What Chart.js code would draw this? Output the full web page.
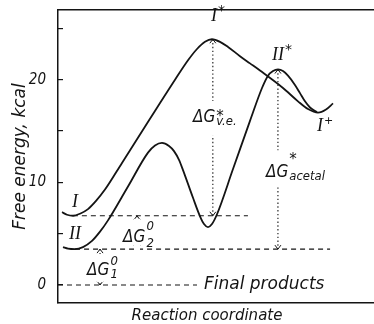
<!DOCTYPE html>
<html>
<head>
<meta charset="utf-8">
<script src="https://cdn.jsdelivr.net/npm/chart.js@4/dist/chart.umd.min.js"></script>
<style>
  html, body { margin: 0; padding: 0; background: #fff; }
  #wrap { width: 374px; height: 324px; }
</style>
</head>
<body>
<div id="wrap"><canvas id="c"></canvas></div>
<script>
// Reaction coordinate is in arbitrary units (0..100), energy in kcal
const coordI = [1.27, 2.85, 4.75, 6.96, 9.49, 12.03, 14.87, 20.25, 29.11, 37.03, 41.14, 43.99, 46.52,
  48.73, 51.27, 53.80, 57.59, 60.76, 63.92, 71.20, 75.95, 79.11, 82.28, 84.81, 87.03];
const energyI = [7.1, 6.85, 6.75, 6.95, 7.4, 8.2, 9.3, 11.9, 16.2, 20.0, 21.9, 23.0, 23.7,
  23.95, 23.7, 23.2, 22.3, 21.6, 20.9, 19.2, 17.9, 17.15, 16.8, 17.1, 17.7];

const coordII = [1.58, 3.16, 5.38, 7.91, 10.76, 13.29, 15.82, 22.15, 28.48, 30.70, 32.91, 35.13, 36.71,
  38.29, 39.56, 42.72, 44.94, 46.20, 47.47, 48.73, 50.32, 55.38, 60.76, 64.56, 66.46, 68.04, 69.62,
  71.20, 72.78, 74.99, 76.58, 78.16, 79.75, 81.96];
const energyII = [3.7, 3.55, 3.5, 3.7, 4.3, 5.2, 6.3, 9.6, 12.9, 13.6, 13.85, 13.55, 13.05,
  12.2, 11.2, 8.5, 6.7, 5.95, 5.65, 5.95, 6.9, 11.3, 16.0, 19.2, 20.4, 20.85, 21.0,
  20.85, 20.4, 19.5, 18.7, 17.9, 17.3, 16.85];

// dashed reference levels: final products, II, I
const levelEnergy = [0, 3.5, 6.75];
const levelFrom   = [0, 5.4, 4.7];
const levelTo     = [44.0, 86.1, 60.1];

// dotted double arrows: dG*v.e., dG*acetal, dG2, dG1
const arrowCoord = [49.0, 69.6, 25.0, 13.3];
const arrowHigh  = [23.95, 21.0, 6.75, 3.5];
const arrowLow   = [6.75, 3.5, 3.5, 0];

const yTicks = [0, 5, 10, 15, 20, 25];

const ink = '#141414';
const sans = "'DejaVu Sans', sans-serif";
const cond = "'DejaVu Sans Condensed', 'DejaVu Sans', sans-serif";
const serif = "'Liberation Serif', 'DejaVu Serif', serif";

const pts = (xs, ys) => xs.map((v, i) => ({ x: v, y: ys[i] }));

const datasets = [
  { data: pts(coordI, energyI), borderColor: ink, borderWidth: 1.8, cubicInterpolationMode: 'monotone' },
  { data: pts(coordII, energyII), borderColor: ink, borderWidth: 1.8, cubicInterpolationMode: 'monotone' }
];
levelEnergy.forEach((e, i) => {
  datasets.push({
    data: [{ x: levelFrom[i], y: e }, { x: levelTo[i], y: e }],
    borderColor: ink, borderWidth: 1.1, borderDash: [5, 4]
  });
});
arrowCoord.forEach((c, i) => {
  datasets.push({
    data: [{ x: c, y: arrowHigh[i] }, { x: c, y: arrowLow[i] }],
    borderColor: ink, borderWidth: 1.1, borderDash: [1.4, 2.4]
  });
});

// state labels, in data units
const states = [
  { name: 'I',  mark: '',  x: 5.4,  y: 8.1 },
  { name: 'II', mark: '',  x: 5.4,  y: 4.9 },
  { name: 'I',  mark: '*', x: 49.4, y: 26.2 },
  { name: 'II', mark: '*', x: 69.6, y: 22.4 },
  { name: 'I',  mark: '+', x: 82.9, y: 15.5 }
];

// delta G labels: left edge and baseline in data units, arrow index they interrupt
const dgLabels = [
  { sup: '*', sub: 'v.e.',   x: 42.7, y: 15.9, supDy: -1,  subDy: 3, arrow: 0, pad: 8 },
  { sup: '*', sub: 'acetal', x: 65.8, y: 10.5, supDy: -13, subDy: 3, arrow: 1, pad: 4 },
  { sup: '0', sub: '2',      x: 20.6, y: 4.2,  supDy: -12, subDy: 5, arrow: 2, pad: 1 },
  { sup: '0', sub: '1',      x: 9.2,  y: 0.97, supDy: -10, subDy: 3, arrow: 3, pad: 1 }
];

function head(ctx, px, py, dir) {
  ctx.beginPath();
  ctx.moveTo(px - 3, py + 4 * dir);
  ctx.lineTo(px, py);
  ctx.lineTo(px + 3, py + 4 * dir);
  ctx.stroke();
}

const labelPlugin = {
  id: 'labels',
  afterDatasetsDraw(chart) {
    const { ctx, chartArea, scales: { x, y } } = chart;
    ctx.save();
    ctx.fillStyle = ink;
    ctx.strokeStyle = ink;
    ctx.lineWidth = 1;

    arrowCoord.forEach((c, i) => {
      const px = x.getPixelForValue(c);
      head(ctx, px, y.getPixelForValue(arrowHigh[i]), 1);
      head(ctx, px, y.getPixelForValue(arrowLow[i]), -1);
    });

    dgLabels.forEach(l => {
      const px = x.getPixelForValue(l.x);
      const py = y.getPixelForValue(l.y);
      const ax = x.getPixelForValue(arrowCoord[l.arrow]);
      const top = py + Math.min(l.supDy - 10, -13) - l.pad;
      const bot = py + l.subDy + 3 + l.pad;
      ctx.fillStyle = '#fff';
      ctx.fillRect(ax - 3, top, 6, bot - top);
      ctx.fillStyle = ink;

      ctx.textAlign = 'left';
      ctx.textBaseline = 'alphabetic';
      ctx.font = `italic 17px ${cond}`;
      ctx.fillText('\u0394G', px, py);
      const w = ctx.measureText('\u0394G').width + 1;
      ctx.font = `italic 13px ${cond}`;
      ctx.fillText(l.sub, px + w, py + l.subDy);
      ctx.font = l.sup === '*' ? `15px ${sans}` : `italic 13px ${cond}`;
      ctx.fillText(l.sup, px + w, py + l.supDy);
    });

    states.forEach(s => {
      const px = x.getPixelForValue(s.x);
      const py = y.getPixelForValue(s.y);
      ctx.font = `italic 18px ${serif}`;
      ctx.textAlign = 'center';
      ctx.textBaseline = 'middle';
      ctx.fillText(s.name, px, py);
      if (s.mark) {
        const w = ctx.measureText(s.name).width;
        ctx.font = s.mark === '+' ? `11px ${sans}` : `14px ${sans}`;
        ctx.textAlign = 'left';
        ctx.fillText(s.mark, px + w / 2 + 1, py - 5);
      }
    });

    ctx.font = `italic 17px ${sans}`;
    ctx.textAlign = 'left';
    ctx.textBaseline = 'middle';
    ctx.fillText('Final products', x.getPixelForValue(46.2), y.getPixelForValue(0));

    // x title sits a little left of the plot centre in the original
    ctx.font = `italic 15px ${sans}`;
    ctx.textAlign = 'center';
    ctx.fillText('Reaction coordinate', (chartArea.left + chartArea.right) / 2 - 9, chart.height - 8);
    ctx.restore();
  }
};

const noPad = s => { s.paddingTop = 0; s.paddingBottom = 0; s.paddingLeft = 0; s.paddingRight = 0; };

new Chart(document.getElementById('c'), {
  type: 'line',
  data: { datasets },
  plugins: [labelPlugin],
  options: {
    responsive: true,
    maintainAspectRatio: false,
    animation: false,
    layout: { padding: { top: 10, right: 0, bottom: 0, left: 0 } },
    elements: { point: { radius: 0 } },
    plugins: { legend: { display: false }, tooltip: { enabled: false } },
    scales: {
      x: {
        type: 'linear', min: 0, max: 100,
        ticks: { display: false },
        grid: { display: false },
        border: { color: ink, width: 1.5 },
        afterFit: s => { s.height = 21; noPad(s); }
      },
      top: {
        type: 'linear', position: 'top', min: 0, max: 100,
        ticks: { display: false },
        grid: { display: false },
        border: { color: ink, width: 1.5 },
        afterFit: s => { s.height = 0; noPad(s); }
      },
      y: {
        min: -1.75, max: 26.8,
        afterBuildTicks: s => { s.ticks = yTicks.map(v => ({ value: v })); },
        ticks: {
          callback: v => (v % 10 === 0 ? String(v) : ''),
          padding: 17, color: ink,
          font: { family: cond, size: 15, style: 'italic' }
        },
        grid: { drawOnChartArea: false, tickLength: -5, color: ink, lineWidth: 1.2 },
        border: { color: ink, width: 1.5 },
        title: { display: true, text: 'Free energy, kcal', color: ink, padding: { top: 10, bottom: 0 },
                 font: { family: sans, size: 17, style: 'italic' } },
        afterFit: s => { s.width = 58; noPad(s); }
      }
    }
  }
});
</script>
</body>
</html>
